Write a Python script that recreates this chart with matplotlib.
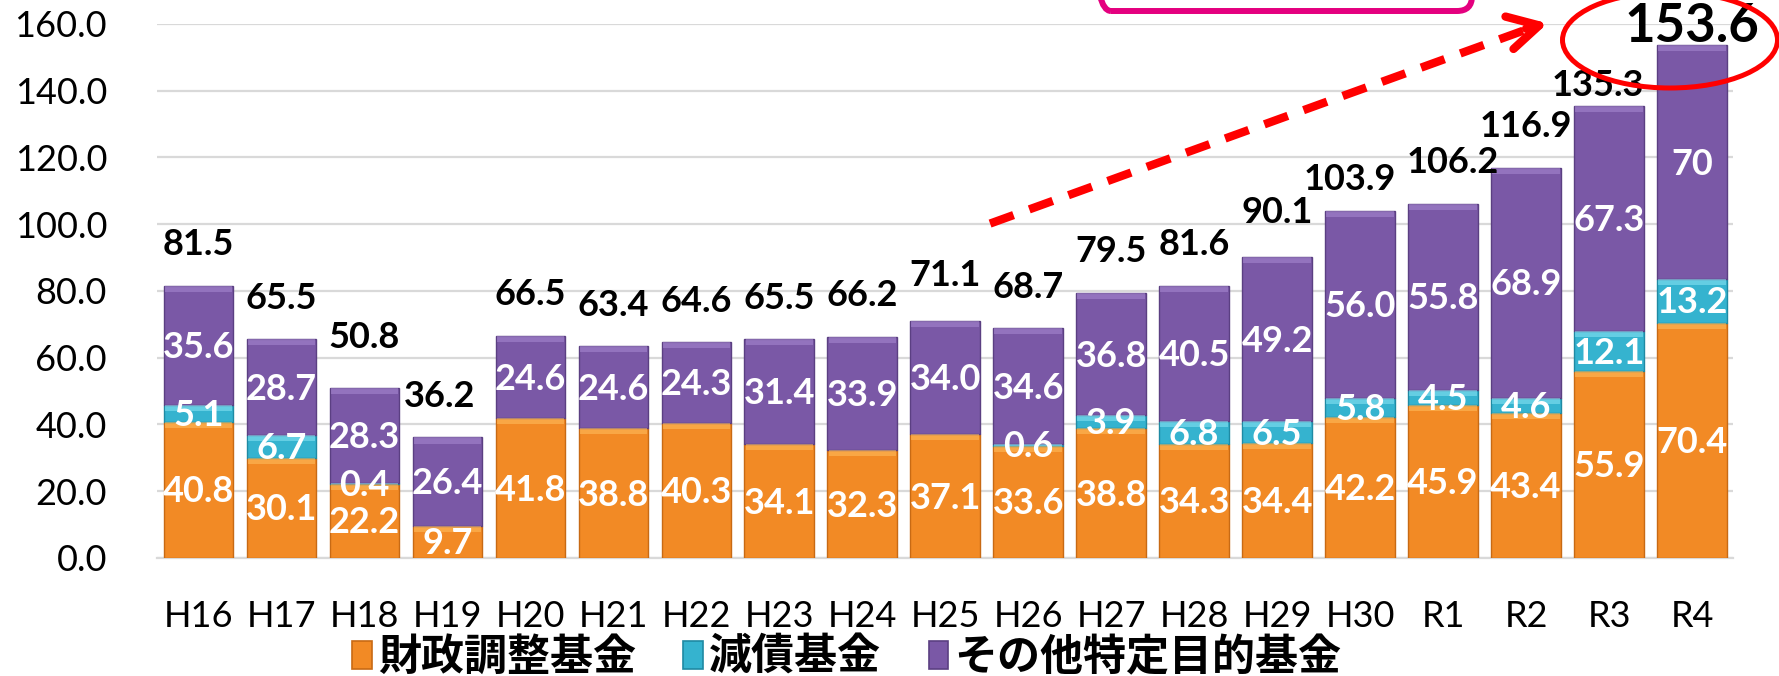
import matplotlib
matplotlib.use('Agg')
import numpy as np
import matplotlib.pyplot as plt
from matplotlib.patches import Patch, Ellipse, FancyBboxPatch

years = ['H16', 'H17', 'H18', 'H19', 'H20', 'H21', 'H22', 'H23', 'H24', 'H25',
         'H26', 'H27', 'H28', 'H29', 'H30', 'R1', 'R2', 'R3', 'R4']

# 財政調整基金 / 減債基金 / その他特定目的基金 (億円)
zaisei = [40.8, 30.1, 22.2, 9.7, 41.8, 38.8, 40.3, 34.1, 32.3, 37.1,
          33.6, 38.8, 34.3, 34.4, 42.2, 45.9, 43.4, 55.9, 70.4]
gensai = [5.1, 6.7, 0.4, 0, 0, 0, 0, 0, 0, 0,
          0.6, 3.9, 6.8, 6.5, 5.8, 4.5, 4.6, 12.1, 13.2]
sonota = [35.6, 28.7, 28.3, 26.4, 24.6, 24.6, 24.3, 31.4, 33.9, 34.0,
          34.6, 36.8, 40.5, 49.2, 56.0, 55.8, 68.9, 67.3, 70]
sonota_labels = ['35.6', '28.7', '28.3', '26.4', '24.6', '24.6', '24.3', '31.4', '33.9', '34.0',
                 '34.6', '36.8', '40.5', '49.2', '56.0', '55.8', '68.9', '67.3', '70']
totals = [81.5, 65.5, 50.8, 36.2, 66.5, 63.4, 64.6, 65.5, 66.2, 71.1,
          68.7, 79.5, 81.6, 90.1, 103.9, 106.2, 116.9, 135.3, 153.6]

legend_names = ['財政調整基金', '減債基金', 'その他特定目的基金']
colors = ['#F28A25', '#35B3CF', '#7A58A6']
edges = ['#C86A14', '#1F8AA3', '#5B3F82']
tops = ['#FFC060', '#8BE6F5', '#A98BD2']

# hand nudges of some total labels (like in the original slide)
nudge = {2: (0, 3), 3: (-0.1, 0), 9: (0, 1.2), 13: (0, 1.2),
         14: (-0.12, -2.7), 15: (0.12, 0), 17: (-0.13, -6)}

num_font = 'Lato'
jp_font = ['Noto Sans CJK JP', 'DejaVu Sans']

fig = plt.figure(figsize=(17.79, 6.76), dpi=100)
ax = fig.add_axes([0.0883, 0.1746, 0.8861, 0.7899])

x = np.arange(len(years))
w = 0.84
bottom = np.zeros(len(years))
series = [zaisei, gensai, sonota]
for k, vals in enumerate(series):
    v = np.array(vals, dtype=float)
    ec = [edges[k] if val > 0 else 'none' for val in v]
    ax.bar(x, v, w, bottom=bottom, color=colors[k], edgecolor=ec, linewidth=1.0, zorder=3)
    hl = np.minimum(v, 1.8)
    ax.bar(x, hl, w * 0.97, bottom=bottom + v - hl, color=tops[k], alpha=0.55,
           linewidth=0, zorder=4)
    for i, val in enumerate(v):
        if val <= 0:
            continue
        txt = sonota_labels[i] if k == 2 else '{:.1f}'.format(val)
        ax.text(i, bottom[i] + val / 2 - 0.6, txt, ha='center', va='center', color='white',
                fontsize=26, fontweight='bold', family=num_font, zorder=6)
    bottom = bottom + v

for i, t in enumerate(totals):
    dx, dy = nudge.get(i, (0, 0))
    if i == len(totals) - 1:
        ax.text(i + dx, t + 5.6, '{:.1f}'.format(t), ha='center', va='center', fontsize=38,
                fontweight='bold', family=num_font, color='black', zorder=7, clip_on=False)
    else:
        ax.text(i + dx, t + 12.3 + dy, '{:.1f}'.format(t), ha='center', va='center',
                fontsize=26, fontweight='bold', family=num_font, color='black', zorder=7,
                clip_on=False)

ax.set_xlim(-0.5, len(years) - 0.5)
ax.set_ylim(0, 160)
ax.set_yticks(np.arange(0, 161, 20))
ax.set_yticklabels(['{:.1f}'.format(v) for v in np.arange(0, 161, 20)])
ax.set_xticks(x)
ax.set_xticklabels(years)
ax.tick_params(axis='y', length=0, pad=36, labelsize=26)
ax.tick_params(axis='x', length=0, pad=30, labelsize=26)
for lab in ax.get_xticklabels() + ax.get_yticklabels():
    lab.set_family(num_font)
ax.yaxis.grid(True, color='#D9D9D9', linewidth=1.6, zorder=0)
ax.set_axisbelow(True)
for s in ['top', 'right', 'left']:
    ax.spines[s].set_visible(False)
ax.spines['bottom'].set_color('#D9D9D9')
ax.spines['bottom'].set_linewidth(1.6)

# red dashed arrow
ax.plot([9.54, 16.1], [100.2, 159.2], color='red', lw=6, dashes=(3, 2),
        dash_capstyle='butt', clip_on=False, zorder=8)
ax.annotate('', xy=(16.26, 160.2), xytext=(16.0, 158.6),
            arrowprops=dict(arrowstyle='->,head_length=1.1,head_width=0.6', color='red',
                            lw=6, shrinkA=0, shrinkB=0, mutation_scale=20,
                            capstyle='round', joinstyle='round'),
            annotation_clip=False, zorder=8)

# red ellipse round the last total
fig.add_artist(Ellipse((16.70, 6.36), 2.15, 0.96, fill=False, ec='red', lw=3.6,
                       transform=fig.dpi_scale_trans, zorder=9))
# pink box (cut by the top edge)
fig.add_artist(FancyBboxPatch((10.96, 6.65), 3.76, 0.8,
                              boxstyle='round,pad=0,rounding_size=0.15',
                              fc='none', ec='#E4007F', lw=4.3,
                              transform=fig.dpi_scale_trans, zorder=9))

handles = [Patch(facecolor=colors[k], edgecolor=edges[k], linewidth=1.2) for k in range(3)]
fig.legend(handles, legend_names, loc='center', bbox_to_anchor=(0.476, 0.028), ncol=3,
           frameon=False, prop={'family': jp_font, 'weight': 'bold', 'size': 31},
           handlelength=0.45, handleheight=0.6, handletextpad=0.15, columnspacing=1.1,
           borderpad=0, borderaxespad=0)

fig.savefig('out.png', dpi=100)
